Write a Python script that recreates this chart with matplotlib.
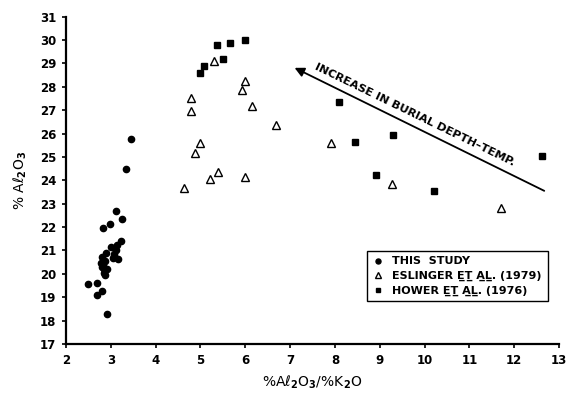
import numpy as np
import matplotlib.pyplot as plt

# Data #
study_x = [2.49, 2.70, 2.70, 2.80, 2.91, 2.83, 2.99, 3.11, 3.25, 3.22, 3.13, 3.00,
           2.90, 2.81, 2.79, 2.80, 2.85, 2.88, 2.91, 3.06, 3.11, 3.17, 3.04, 2.82,
           2.87, 3.08, 2.84, 3.45, 3.33]
study_y = [19.55, 19.62, 19.09, 19.28, 18.27, 21.94, 22.13, 22.68, 22.34, 21.40, 21.23, 21.16,
           20.90, 20.70, 20.47, 20.28, 20.19, 19.95, 20.20, 20.85, 21.02, 20.62, 20.66, 20.38,
           20.55, 20.75, 20.05, 25.76, 24.47]

eslinger_x = [4.63, 4.78, 4.78, 4.88, 4.98, 5.21, 5.30, 5.40, 5.92, 6.00, 6.00, 6.16,
              6.69, 7.91, 9.27, 11.71]
eslinger_y = [23.69, 27.50, 26.96, 25.18, 25.58, 24.05, 29.10, 24.36, 27.88, 28.24, 24.15, 27.17,
              26.37, 25.60, 23.84, 22.82]

hower_x = [4.98, 5.09, 5.36, 5.50, 5.67, 5.99, 8.09, 8.44, 9.29, 8.91, 10.21, 12.63]
hower_y = [28.61, 28.90, 29.78, 29.20, 29.89, 29.98, 27.33, 25.63, 25.95, 24.21, 23.54, 25.05]

xticks = np.arange(2, 14)
yticks = np.arange(17, 32)

plt.rcParams['font.family'] = ['DejaVu Sans']
plt.rcParams['font.weight'] = 'bold'

fig = plt.figure(figsize=(5.68, 3.93), dpi=100)
ax = fig.add_axes([0.1162, 0.1247, 0.868, 0.833])

# Plot the three data sets #
ax.plot(study_x, study_y, 'o', color='black', markersize=4.5, label='THIS  STUDY')
ax.plot(eslinger_x, eslinger_y, '^', markerfacecolor='white', markeredgecolor='black',
        markeredgewidth=1.0, markersize=5.5, label='ESLINGER E\u0332T\u0332 A\u0332L\u0332. (1979)')
ax.plot(hower_x, hower_y, 's', color='black', markersize=3.8,
        label='HOWER E\u0332T\u0332 A\u0332L\u0332. (1976)')

# Trend arrow #
ax.annotate('', xy=(7.10, 28.81), xytext=(12.67, 23.55),
            arrowprops=dict(arrowstyle='-|>', color='black', lw=1.3,
                            mutation_scale=14, shrinkA=0, shrinkB=0))
ax.text(9.79, 26.80, 'INCREASE IN BURIAL DEPTH\u2013TEMP.', rotation=-26,
        rotation_mode='anchor', ha='center', va='center', fontsize=8.2,
        fontweight='bold')

# Axes #
ax.set_xlim(2, 13)
ax.set_ylim(17, 31)
ax.set_xticks(xticks)
ax.set_yticks(yticks)
ax.spines['top'].set_visible(False)
ax.spines['right'].set_visible(False)
ax.spines['left'].set_linewidth(1.6)
ax.spines['bottom'].set_linewidth(1.6)
ax.tick_params(direction='out', length=3, width=1.2, labelsize=8.5, pad=4)
for lab in ax.get_xticklabels() + ax.get_yticklabels():
    lab.set_fontweight('bold')

ax.set_xlabel('%A\u2113$_2$O$_3$/%K$_2$O', fontsize=10, labelpad=5)
ax.set_ylabel('% A\u2113$_2$O$_3$', fontsize=10, labelpad=8)

leg = ax.legend(loc='lower right', bbox_to_anchor=(0.988, 0.113), frameon=True,
                fancybox=False, edgecolor='black', framealpha=1, fontsize=8,
                handlelength=1.0, handletextpad=0.8, borderpad=0.5,
                labelspacing=0.4, markerscale=0.8)
leg.get_frame().set_linewidth(1.0)

fig.savefig('out.png', dpi=100)
